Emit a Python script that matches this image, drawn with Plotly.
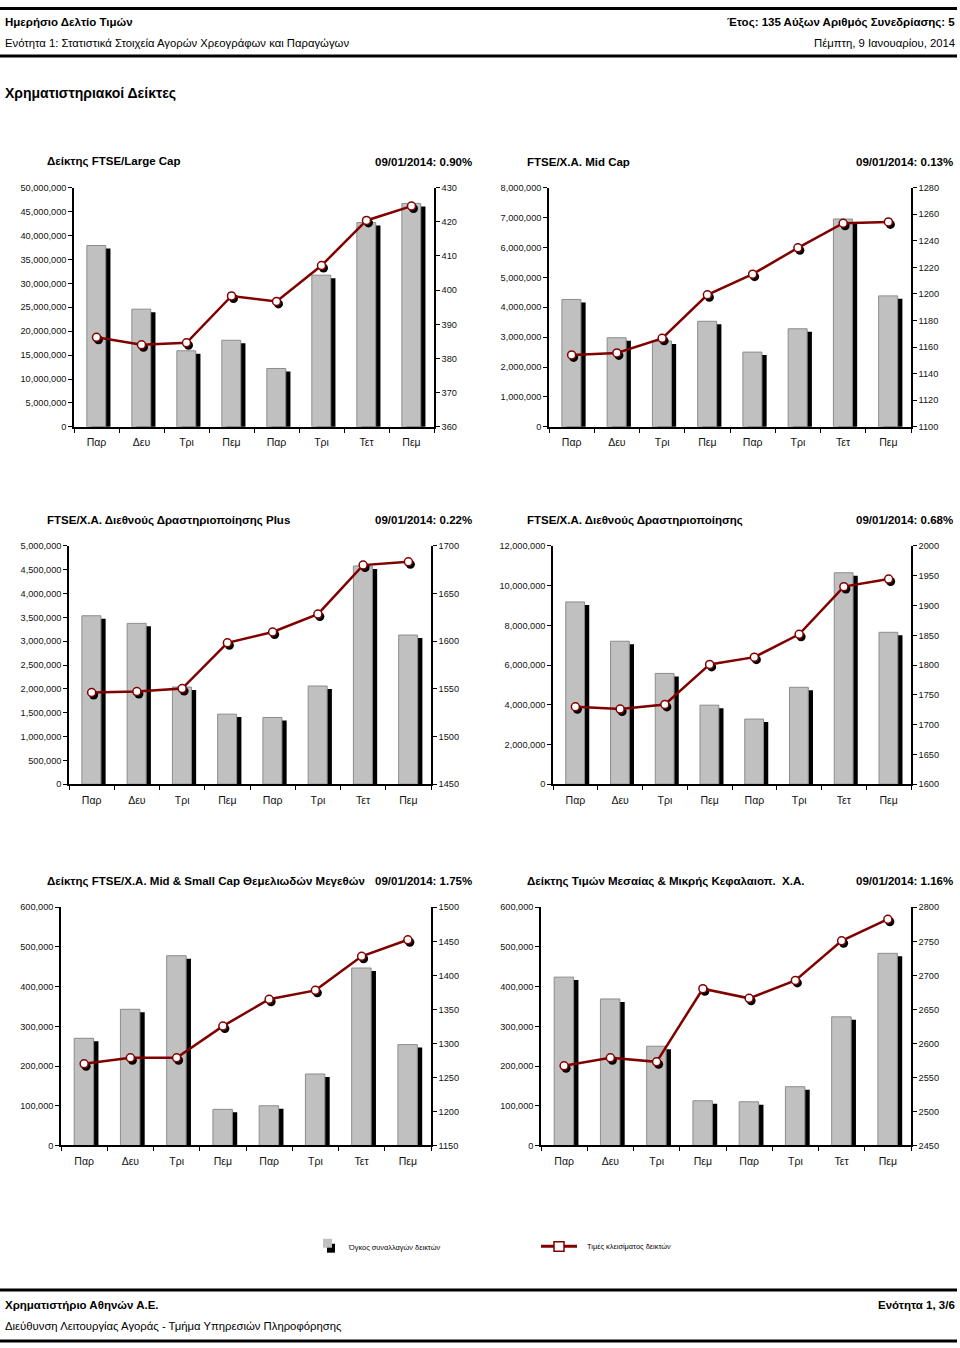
import plotly.graph_objects as go

# ---------------- data ----------------
days = ["Παρ", "Δευ", "Τρι", "Πεμ", "Παρ", "Τρι", "Τετ", "Πεμ"]

titles = [
    "Δείκτης FTSE/Large Cap",
    "FTSE/Χ.Α. Mid Cap",
    "FTSE/Χ.Α. Διεθνούς Δραστηριοποίησης Plus",
    "FTSE/Χ.Α. Διεθνούς Δραστηριοποίησης",
    "Δείκτης FTSE/Χ.Α. Mid & Small Cap Θεμελιωδών Μεγεθών",
    "Δείκτης Τιμών Μεσαίας & Μικρής Κεφαλαιοπ.  Χ.Α.",
]
changes = [
    "09/01/2014: 0.90%",
    "09/01/2014: 0.13%",
    "09/01/2014: 0.22%",
    "09/01/2014: 0.68%",
    "09/01/2014: 1.75%",
    "09/01/2014: 1.16%",
]

vol_large = [37900000, 24600000, 15900000, 18100000, 12200000, 31700000, 42700000, 46700000]
px_large = [386.2, 384.0, 384.6, 398.3, 396.7, 407.2, 420.4, 424.6]

vol_mid = [4260000, 2980000, 2870000, 3530000, 2500000, 3280000, 6950000, 4380000]
px_mid = [1154.1, 1155.6, 1166.6, 1199.4, 1214.9, 1234.7, 1253.2, 1254.2]

vol_plus = [3535000, 3375000, 2040000, 1470000, 1400000, 2060000, 4580000, 3130000]
px_plus = [1546.2, 1547.2, 1550.3, 1598.3, 1609.7, 1628.5, 1679.9, 1683.3]

vol_intl = [9180000, 7200000, 5580000, 3980000, 3280000, 4880000, 10650000, 7650000]
px_intl = [1730.0, 1726.1, 1733.9, 1801.1, 1813.3, 1851.7, 1931.7, 1944.4]

vol_msfund = [270000, 343000, 478000, 91000, 100000, 180000, 447000, 254000]
px_msfund = [1270.0, 1278.8, 1278.8, 1325.4, 1364.8, 1377.9, 1427.9, 1452.2]

vol_midsmall = [424000, 369000, 250000, 112500, 110000, 148000, 324000, 484000]
px_midsmall = [2567.1, 2578.8, 2572.9, 2680.3, 2666.2, 2692.5, 2750.8, 2782.4]

vols = [vol_large, vol_mid, vol_plus, vol_intl, vol_msfund, vol_midsmall]
prices = [px_large, px_mid, px_plus, px_intl, px_msfund, px_midsmall]

# axis scales (left: volume, right: price)
left_ranges = [(0, 50000000, 5000000), (0, 8000000, 1000000), (0, 5000000, 500000),
               (0, 12000000, 2000000), (0, 600000, 100000), (0, 600000, 100000)]
right_ranges = [(360, 430, 10), (1100, 1280, 20), (1450, 1700, 50),
                (1600, 2000, 50), (1150, 1500, 50), (2450, 2800, 50)]

legend_vol = "Όγκος συναλλαγών δεικτών"
legend_px = "Τιμές κλεισίματος δεικτών"

# ---------------- layout geometry (pixels) ----------------
W, H = 960, 1348
# plot areas: x0, x1, ytop, ybottom
boxes = [
    (74, 434, 184, 425),
    (549, 911, 184, 425),
    (69, 431, 545, 785),
    (553, 911, 545, 785),
    (61, 431, 909, 1149),
    (541, 911, 909, 1149),
]
title_pos = [(45, 474, 158), (525, 955, 158), (45, 474, 519), (525, 955, 519),
             (45, 474, 883), (525, 955, 883)]

def px(x):
    return x / W

def py(y):
    return 1 - y / H

FONT = "Liberation Sans, Arial, sans-serif"
AFONT = "Liberation Sans, Arial, sans-serif"
MAROON = "#800000"

fig = go.Figure()
layout = dict(
    width=W, height=H, margin=dict(l=0, r=0, t=0, b=0),
    paper_bgcolor="white", plot_bgcolor="rgba(0,0,0,0)",
    barmode="overlay", showlegend=False,
    font=dict(family=AFONT, color="black"),
)

BW = 0.42
BOFF = -0.215
SX = 0.105  # shadow x-shift in category units

idx = list(range(len(days)))

for i in range(6):
    n = i + 1
    xa = "x" if n == 1 else f"x{n}"
    yl_n = 2 * i + 1
    yr_n = 2 * i + 2
    yt_n = 12 + n  # extra axis for inward right-side ticks
    yl = "y" if yl_n == 1 else f"y{yl_n}"
    yr = f"y{yr_n}"
    x0, x1, yt, yb = boxes[i]
    lo, hi, dl = left_ranges[i]
    rlo, rhi, dr = right_ranges[i]
    hpx = yb - yt
    wcat = (x1 - x0) / len(days)
    d_left = (hi - lo) * 3.0 / hpx
    d_right = (rhi - rlo) * 2.5 / hpx
    mx = 2.0 / wcat

    # bar shadow
    fig.add_trace(go.Bar(
        x=idx, y=vols[i], base=[-d_left] * len(days), width=BW, offset=BOFF + SX,
        marker=dict(color="black", line=dict(width=0)),
        xaxis=xa, yaxis=yl, hoverinfo="skip"))
    # gray bars
    fig.add_trace(go.Bar(
        x=idx, y=vols[i], width=BW, offset=BOFF,
        marker=dict(color="#C0C0C0", line=dict(color="#8C8C8C", width=1)),
        xaxis=xa, yaxis=yl, name=legend_vol))
    # marker shadows
    fig.add_trace(go.Scatter(
        x=[k + mx for k in idx], y=[p - d_right for p in prices[i]], mode="markers",
        marker=dict(color="black", size=9, line=dict(width=0)),
        xaxis=xa, yaxis=yr, hoverinfo="skip", cliponaxis=False))
    # price line
    fig.add_trace(go.Scatter(
        x=idx, y=prices[i], mode="lines+markers",
        line=dict(color=MAROON, width=2.5),
        marker=dict(color="white", size=8, line=dict(color=MAROON, width=1.5)),
        xaxis=xa, yaxis=yr, name=legend_px, cliponaxis=False))

    layout[("xaxis" if n == 1 else f"xaxis{n}")] = dict(
        domain=[px(x0), px(x1)], anchor=yl, range=[-0.5, len(days) - 0.5],
        tickmode="array", tickvals=idx, ticktext=days, ticks="",
        ticklabelstandoff=5,
        tickfont=dict(size=10.5, family=AFONT, color="#111"),
        showline=True, linecolor="black", linewidth=1.5, showgrid=False, zeroline=False,
        minor=dict(ticks="outside", tickmode="linear", tick0=-0.5, dtick=1,
                   ticklen=4, tickwidth=1, tickcolor="black", showgrid=False),
        fixedrange=True,
    )
    layout[("yaxis" if yl_n == 1 else f"yaxis{yl_n}")] = dict(
        domain=[py(yb), py(yt)], anchor=xa, range=[lo, hi],
        tickmode="linear", tick0=lo, dtick=dl, tickformat=",d",
        ticks="outside", ticklen=4, tickwidth=1, tickcolor="black",
        tickfont=dict(size=9.2, family=AFONT, color="#111"),
        showline=True, linecolor="black", linewidth=1.5, showgrid=False, zeroline=False,
        fixedrange=True,
    )
    layout[f"yaxis{yr_n}"] = dict(
        overlaying=yl, anchor=xa, side="right", range=[rlo, rhi],
        tickmode="linear", tick0=rlo, dtick=dr, tickformat="d",
        ticks="outside", ticklen=4, tickwidth=1, tickcolor="black",
        tickfont=dict(size=9.2, family=AFONT, color="#111"),
        showline=True, linecolor="black", linewidth=1.5, showgrid=False, zeroline=False,
        fixedrange=True,
    )
    layout[f"yaxis{yt_n}"] = dict(
        overlaying=yl, anchor=xa, side="right", range=[rlo, rhi],
        tickmode="linear", tick0=rlo, dtick=dr,
        ticks="inside", ticklen=4, tickwidth=1, tickcolor="black",
        showticklabels=False, showline=False, showgrid=False, zeroline=False,
        fixedrange=True,
    )

fig.update_layout(**layout)

annotations = []
shapes = []

def text(x, y, s, size, bold=False, anchor="left", family=FONT, color="black"):
    annotations.append(dict(
        xref="paper", yref="paper", x=px(x), y=py(y), text=(f"<b>{s}</b>" if bold else s),
        showarrow=False, xanchor=anchor, yanchor="middle",
        font=dict(size=size, family=family, color=color)))

def hline(y, width):
    shapes.append(dict(type="line", xref="paper", yref="paper",
                       x0=0, x1=px(957), y0=py(y), y1=py(y),
                       line=dict(color="black", width=width)))

# header
hline(3.5, 3)
text(3, 17.5, "Ημερήσιο Δελτίο Τιμών", 11.5, bold=True)
text(3, 38, "Ενότητα 1: Στατιστικά Στοιχεία Αγορών Χρεογράφων και Παραγώγων", 11.3)
text(957, 17.5, "Έτος: 135 Αύξων Αριθμός Συνεδρίασης: 5", 11.5, bold=True, anchor="right")
text(957, 38, "Πέμπτη, 9 Ιανουαρίου, 2014", 11.3, anchor="right")
hline(51.5, 3)
text(3, 88.5, "Χρηματιστηριακοί Δείκτες", 14, bold=True)

# panel titles
for i in range(6):
    xl, xr, yy = title_pos[i]
    text(xl, yy, titles[i], 11.5, bold=True)
    text(xr, yy, changes[i], 11.5, bold=True, anchor="right")

# legend (drawn)
shapes.append(dict(type="rect", xref="paper", yref="paper",
                   x0=px(327), x1=px(335), y0=py(1257), y1=py(1248),
                   fillcolor="black", line=dict(width=0)))
shapes.append(dict(type="rect", xref="paper", yref="paper",
                   x0=px(323), x1=px(332), y0=py(1252), y1=py(1243),
                   fillcolor="#C0C0C0", line=dict(width=0)))
text(346, 1251.5, legend_vol, 7.4, family=AFONT)
shapes.append(dict(type="line", xref="paper", yref="paper",
                   x0=px(541), x1=px(577), y0=py(1250.5), y1=py(1250.5),
                   line=dict(color=MAROON, width=3)))
shapes.append(dict(type="rect", xref="paper", yref="paper",
                   x0=px(554), x1=px(564), y0=py(1255.5), y1=py(1246),
                   fillcolor="white", line=dict(color=MAROON, width=1.5)))
text(585, 1250.5, legend_px, 7.4, family=AFONT)

# footer
hline(1294.5, 3)
text(3, 1310, "Χρηματιστήριο Αθηνών Α.Ε.", 11.5, bold=True)
text(957, 1310, "Ενότητα 1, 3/6", 11.5, bold=True, anchor="right")
text(3, 1331, "Διεύθυνση Λειτουργίας Αγοράς - Τμήμα Υπηρεσιών Πληροφόρησης", 11.3)
hline(1346, 3)

fig.update_layout(annotations=annotations, shapes=shapes)

page_js = (
    "var de=document.documentElement, b=document.body;"
    "de.style.margin='0'; de.style.padding='0'; de.style.overflow='hidden';"
    "de.style.width='960px'; de.style.height='1348px';"
    "b.style.margin='0'; b.style.padding='0'; b.style.overflow='hidden';"
    "b.style.width='960px'; b.style.height='1348px';"
    "var g=document.querySelector('.plotly-graph-div');"
    "if(g){g.style.position='absolute'; g.style.left='0px'; g.style.top='0px';}"
)

fig.write_html(
    "out.html",
    config={"displayModeBar": False, "responsive": False},
    post_script=page_js,
)
